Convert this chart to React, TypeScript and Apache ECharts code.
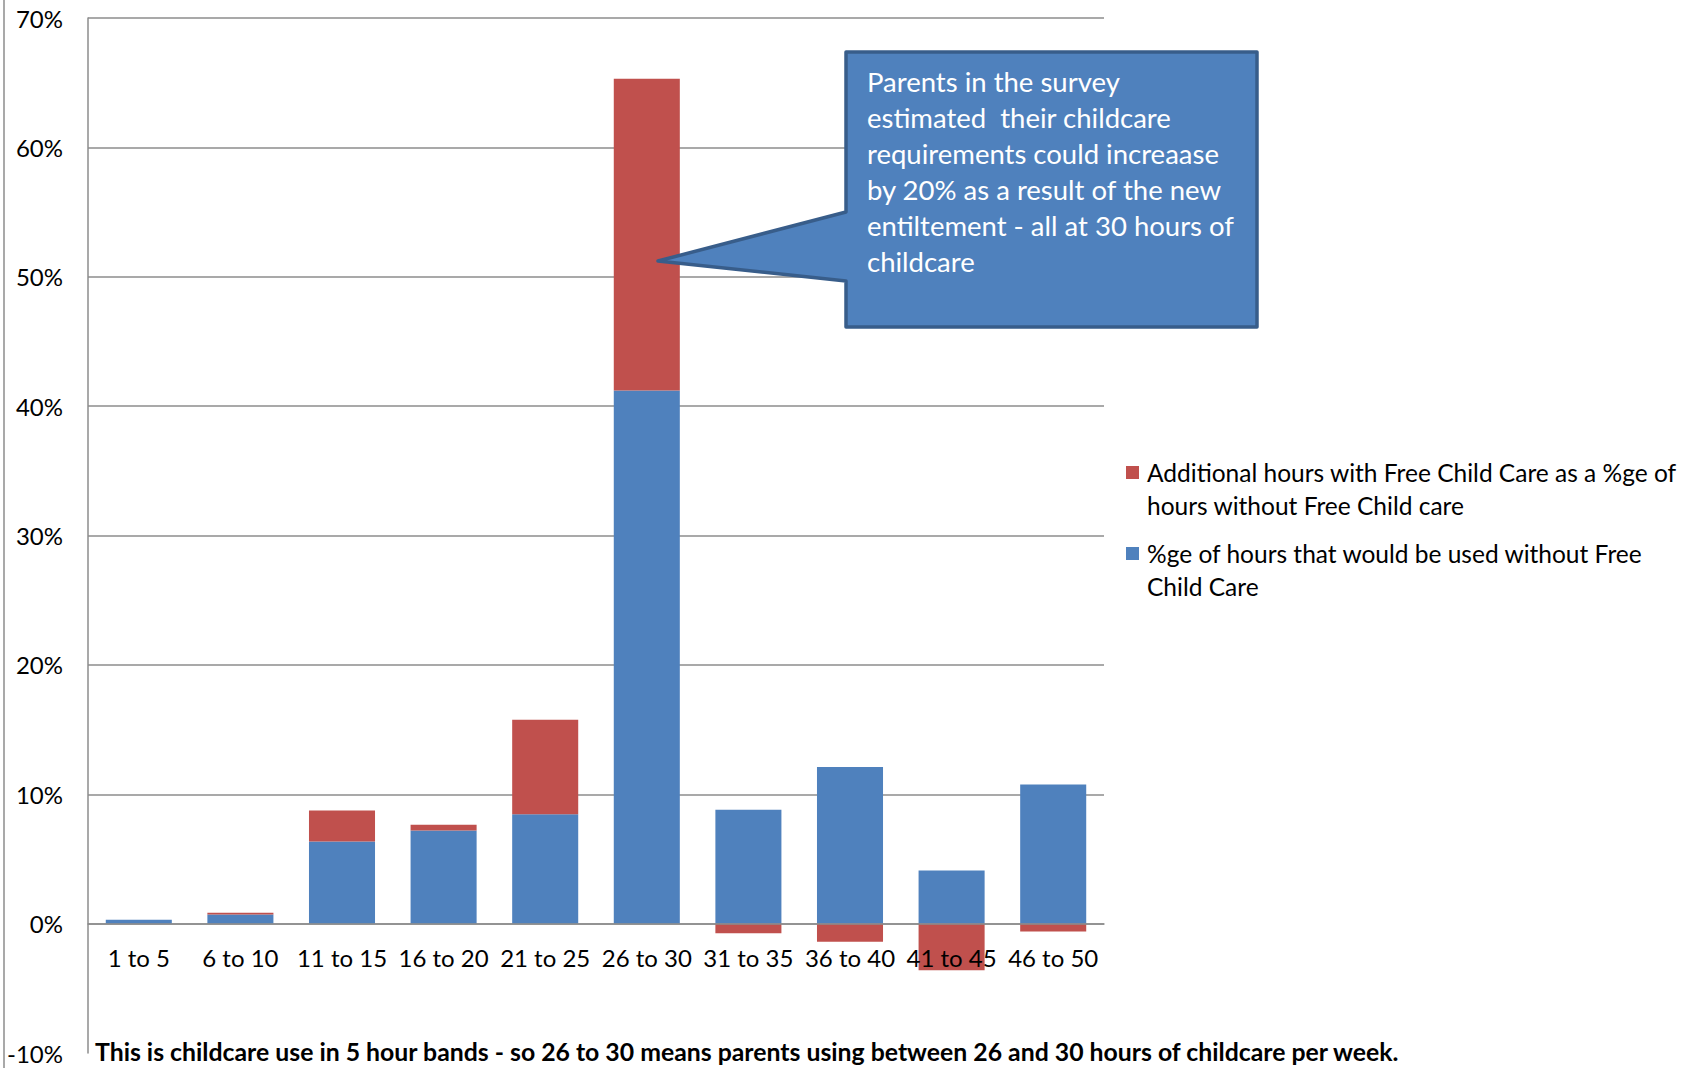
import React, { useEffect, useRef } from 'react';
import * as echarts from 'echarts';

const categories = ['1 to 5', '6 to 10', '11 to 15', '16 to 20', '21 to 25', '26 to 30', '31 to 35', '36 to 40', '41 to 45', '46 to 50'];
const baseNames = '%ge of hours that would be used without Free Child Care';
const addNames = 'Additional hours with Free Child Care as a %ge of hours without Free Child care';
const baseShare = [0.3, 0.7, 6.35, 7.2, 8.45, 41.2, 8.8, 12.1, 4.1, 10.75];
const additionalShare = [0, 0.15, 2.4, 0.45, 7.3, 24.1, -0.75, -1.4, -3.6, -0.6];
const yMin = -10;
const yMax = 70;
const yStep = 10;

const calloutLines = [
  'Parents in the survey',
  'estimated  their childcare',
  'requirements could increaase',
  'by 20% as a result of the new',
  'entiltement - all at 30 hours of',
  'childcare',
];
const legendLinesAdd = ['Additional hours with Free Child Care as a %ge of', 'hours without Free Child care'];
const legendLinesBase = ['%ge of hours that would be used without Free', 'Child Care'];
const footnote = 'This is childcare use in 5 hour bands - so 26 to 30 means parents using between 26 and 30 hours of childcare per week.';

const FONT = 'Lato, "Noto Sans", sans-serif';
const BLUE = '#4f81bd';
const RED = '#c0504d';
const GRID = '#8c8c8c';

const W = 1698;
const H = 1068;
const GRID_TOP = 18;
const GRID_BOTTOM = 15;
const GRID_H = H - GRID_TOP - GRID_BOTTOM;
const ZERO_OFFSET = -GRID_H * (0 - yMin) / (yMax - yMin);

export default function App() {
  const ref = useRef<HTMLDivElement>(null);
  useEffect(() => {
    const chart = echarts.init(ref.current!, null, { renderer: 'svg' });
    chart.setOption({
      animation: false,
      textStyle: { fontFamily: FONT },
      grid: { left: 88, right: 594, top: GRID_TOP, bottom: GRID_BOTTOM, containLabel: false, outerBoundsMode: 'none' },
      xAxis: {
        type: 'category',
        data: categories,
        z: 3,
        position: 'bottom',
        offset: ZERO_OFFSET,
        axisLine: { onZero: false, lineStyle: { color: GRID, width: 1.5 } },
        axisTick: { show: false },
        axisLabel: { color: '#000', fontSize: 24, margin: 22, fontFamily: FONT, interval: 0 },
      },
      yAxis: {
        type: 'value',
        min: yMin,
        max: yMax,
        interval: yStep,
        axisLine: { show: true, lineStyle: { color: GRID, width: 1.5 } },
        axisTick: { show: false },
        axisLabel: { formatter: '{value}%', color: '#000', fontSize: 24, margin: 25, fontFamily: FONT },
        splitLine: { show: true, showMinLine: false, lineStyle: { color: GRID, width: 1.5 } },
      },
      series: [
        {
          name: baseNames,
          type: 'bar',
          stack: 'total',
          barWidth: '65%',
          data: baseShare,
          itemStyle: { color: BLUE },
        },
        {
          name: addNames,
          type: 'bar',
          stack: 'total',
          barWidth: '65%',
          data: additionalShare,
          itemStyle: { color: RED },
        },
      ],
      graphic: [
        { type: 'line', z: 10, shape: { x1: 4, y1: 0, x2: 4, y2: H }, style: { stroke: GRID, lineWidth: 1.5 } },
        {
          type: 'polygon',
          z: 10,
          shape: {
            points: [
              [846, 52], [1257, 52], [1257, 327], [846, 327], [846, 281], [658, 261], [846, 212],
            ],
          },
          style: { fill: BLUE, stroke: '#385d8a', lineWidth: 3.5, lineJoin: 'round' },
        },
        {
          type: 'text',
          z: 11,
          x: 867,
          y: 63,
          style: {
            text: calloutLines.join('\n'),
            fill: '#fff',
            font: `27.5px ${FONT}`,
            lineHeight: 36,
            verticalAlign: 'top',
          },
        },
        { type: 'rect', z: 10, shape: { x: 1126, y: 466, width: 13, height: 13 }, style: { fill: RED } },
        {
          type: 'text',
          z: 10,
          x: 1147,
          y: 456,
          style: { text: legendLinesAdd.join('\n'), fill: '#000', font: `24.5px ${FONT}`, lineHeight: 33, verticalAlign: 'top' },
        },
        { type: 'rect', z: 10, shape: { x: 1126, y: 547, width: 13, height: 13 }, style: { fill: BLUE } },
        {
          type: 'text',
          z: 10,
          x: 1147,
          y: 537,
          style: { text: legendLinesBase.join('\n'), fill: '#000', font: `24.5px ${FONT}`, lineHeight: 33, verticalAlign: 'top' },
        },
        {
          type: 'text',
          z: 10,
          x: 95,
          y: 1051,
          style: { text: footnote, fill: '#000', font: `bold 24.8px ${FONT}`, verticalAlign: 'middle' },
        },
      ],
    });
    return () => chart.dispose();
  }, []);
  return <div ref={ref} style={{ position: 'absolute', left: 0, top: 0, width: W, height: H }} />;
}
